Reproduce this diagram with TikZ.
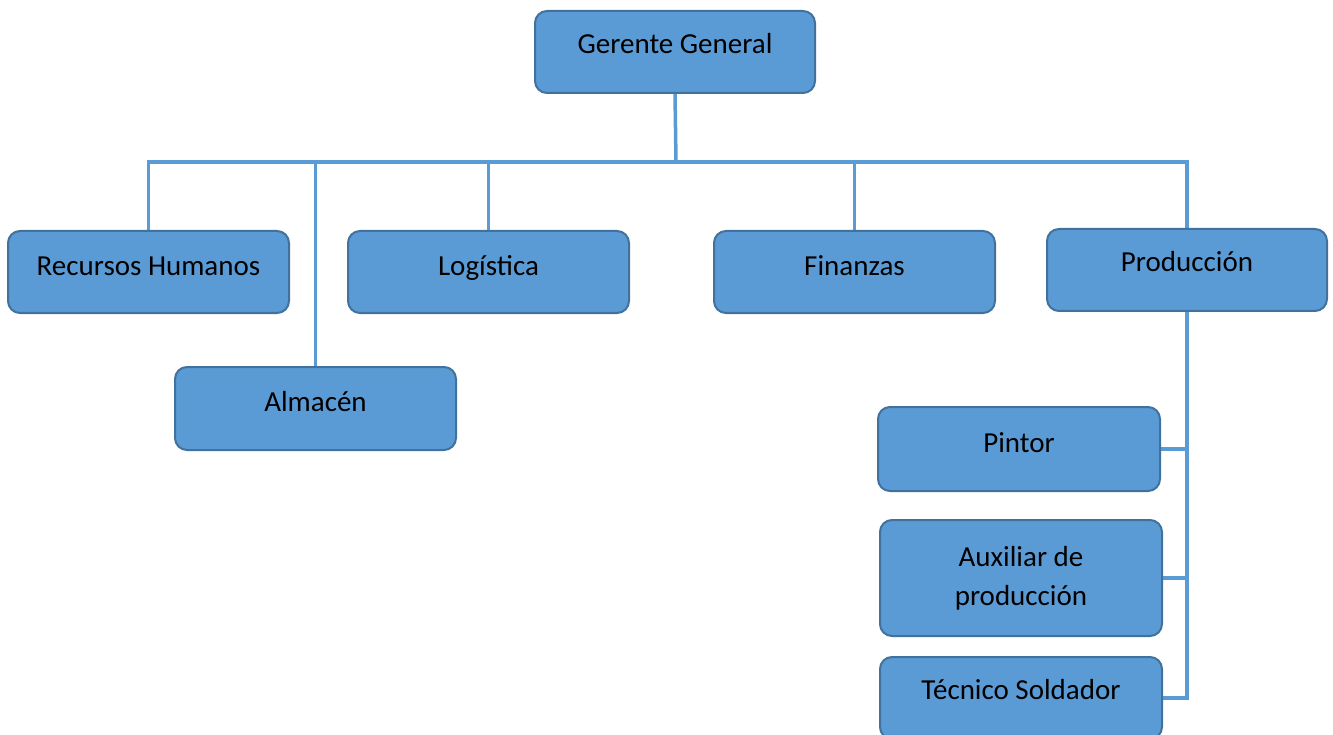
\documentclass[tikz,border=0pt]{standalone}
\usepackage{fontspec}
\setmainfont{Carlito}
\usetikzlibrary{calc,backgrounds}
\definecolor{boxfill}{HTML}{5B9BD5}
\definecolor{boxline}{HTML}{41719C}
\definecolor{linecol}{HTML}{5B9BD5}
\begin{document}
\begin{tikzpicture}[x=1pt,y=-1pt,
  box/.style={draw=boxline, line width=2pt, fill=boxfill, rounded corners=12pt, minimum width=281pt, minimum height=82pt, inner sep=0pt},
  txt/.style={anchor=base, font=\fontsize{29}{39}\selectfont, inner sep=0pt, align=center, text=black},
  conn/.style={draw=linecol, line width=3.5pt}]
\useasboundingbox (0,0) rectangle (1333,735);
\clip (0,0) rectangle (1333,735);
\coordinate (bus) at (676,162);
% boxes
\node[box, minimum width=280pt] (g) at (675,52) {};
\node[box] (rh) at (148.5,272) {};
\node[box, minimum height=83pt] (alm) at (315.5,408.5) {};
\node[box] (log) at (488.5,272) {};
\node[box] (fin) at (854.5,272) {};
\node[box, minimum width=280pt] (prod) at (1187,270) {};
\node[box, minimum width=282pt, minimum height=84pt] (pin) at (1019,449) {};
\node[box, minimum width=282pt, minimum height=116pt] (aux) at (1021,578) {};
\node[box, minimum width=282pt] (tec) at (1021,698) {};
% connectors
\begin{scope}[on background layer]
\draw[conn] (g.south) -- (bus);
\draw[conn] (rh.north) |- (bus) -| (prod.north);
\draw[conn] (alm.north) -- (alm.north |- bus);
\draw[conn] (log.north) -- (log.north |- bus);
\draw[conn] (fin.north) -- (fin.north |- bus);
\draw[conn] (prod.south) |- (tec.east);
\draw[conn] (pin.east) -- (pin.east -| prod.south);
\draw[conn] (aux.east) -- (aux.east -| prod.south);
\end{scope}
% texts
\node[txt] (gt) at ($(g.north)+(0,44)$) {Gerente General};
\node[txt] (rht) at ($(rh.north)+(0,46)$) {Recursos Humanos};
\node[txt] (almt) at ($(alm.north)+(0,45)$) {Almacén};
\node[txt] (logt) at ($(log.north)+(0,46)$) {Logística};
\node[txt] (fint) at ($(fin.north)+(0,46)$) {Finanzas};
\node[txt] (prodt) at ($(prod.north)+(0,44)$) {Producción};
\node[txt] (pint) at ($(pin.north)+(0,46)$) {Pintor};
\node[txt] (auxt) at ($(aux.north)+(0,86)$) {Auxiliar de\\producción};
\node[txt] (tect) at ($(tec.north)+(0,43)$) {Técnico Soldador};
\end{tikzpicture}
\end{document}
